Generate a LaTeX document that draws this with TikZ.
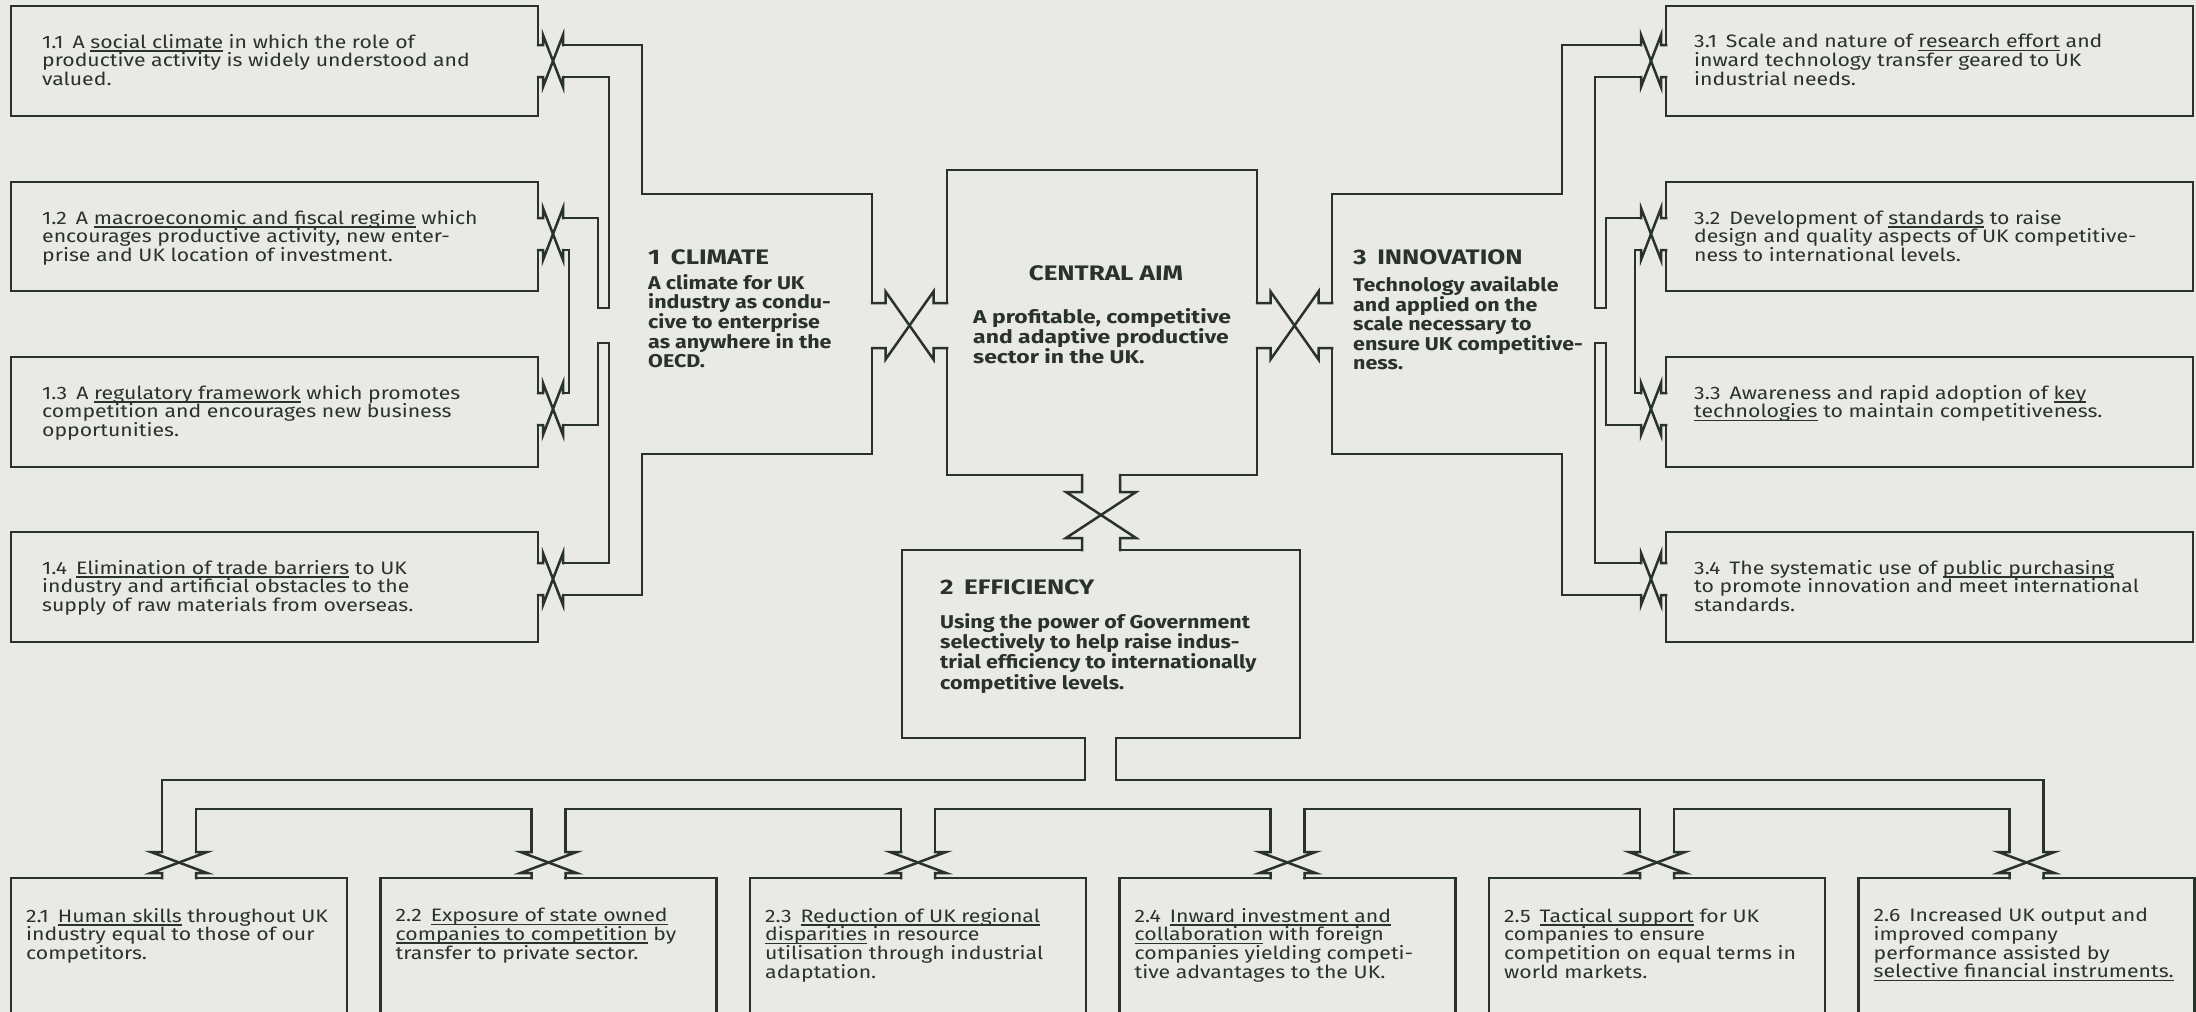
\documentclass[tikz,border=0pt]{standalone}
\usepackage{fontspec}
\setmainfont{Fira Sans}
\newfontfamily\smallfnt{Fira Sans}[FakeStretch=1.18]
\newfontfamily\descfnt{Fira Sans}[FakeStretch=1.16]
\newfontfamily\ttlfnt{Fira Sans}[FakeStretch=1.24]
\definecolor{bg}{RGB}{233,233,230}
\definecolor{ink}{RGB}{42,50,45}
\newsavebox\ulbox
\newcommand\ul[1]{\sbox\ulbox{#1}\rlap{\rule[-3.4pt]{\wd\ulbox}{1.4pt}}\usebox\ulbox}
% horizontal crossover: cx cy w h s a1 a2
\newcommand\XH[7]{%
  \draw[ln] (#6,{#2-#5}) -- ({#1-#3},{#2-#5}) -- ({#1-#3},{#2-#4}) -- ({#1+#3},{#2+#4}) -- ({#1+#3},{#2+#5}) -- (#7,{#2+#5});
  \draw[ln] (#6,{#2+#5}) -- ({#1-#3},{#2+#5}) -- ({#1-#3},{#2+#4}) -- ({#1+#3},{#2-#4}) -- ({#1+#3},{#2-#5}) -- (#7,{#2-#5});}
% vertical crossover: cx cy w h s a1 a2
\newcommand\XV[7]{%
  \draw[ln] ({#1-#5},#6) -- ({#1-#5},{#2-#3}) -- ({#1-#4},{#2-#3}) -- ({#1+#4},{#2+#3}) -- ({#1+#5},{#2+#3}) -- ({#1+#5},#7);
  \draw[ln] ({#1+#5},#6) -- ({#1+#5},{#2-#3}) -- ({#1+#4},{#2-#3}) -- ({#1-#4},{#2+#3}) -- ({#1-#5},{#2+#3}) -- ({#1-#5},#7);}
\tikzset{
  ln/.style={draw=ink, line width=2.5pt, line join=miter, line cap=rect},
  small/.style={inner sep=0pt, anchor=north west, align=left, text=ink, font=\smallfnt\fontsize{18}{18.7}\selectfont},
  bdesc/.style={inner sep=0pt, anchor=north west, align=left, text=ink, font=\descfnt\bfseries\fontsize{18.5}{18.8}\selectfont},
  ttl/.style={inner sep=0pt, anchor=north west, text=ink, font=\ttlfnt\bfseries\fontsize{21}{23}\selectfont},
}
\begin{document}
\begin{tikzpicture}[x=1pt,y=-1pt]
\fill[bg] (0,0) rectangle (2196,1012);
\useasboundingbox (0,0) rectangle (2196,1012);
\begin{scope}
\clip (0,0) rectangle (2196,1012);
% ---------- side boxes 1.x and 3.x
\foreach \T/\B/\c in {6/116/61, 182/291/234, 357/467/409, 532/642/579}{
  \draw[ln] (538,{\c-16}) -- (538,\T) -- (11,\T) -- (11,\B) -- (538,\B) -- (538,{\c+16});
  \XH{553}{\c}{10}{26}{16}{538}{563}
  \draw[ln] (1666,{\c-16}) -- (1666,\T) -- (2193,\T) -- (2193,\B) -- (1666,\B) -- (1666,{\c+16});
  \XH{1651}{\c}{10}{26}{16}{1641}{1666}
}
% left pipes
\draw[ln] (563,45) -- (642,45) -- (642,194) -- (872,194) -- (872,303);
\draw[ln] (563,77) -- (609,77) -- (609,308) -- (598,308) -- (598,218) -- (563,218);
\draw[ln] (563,250) -- (569,250) -- (569,393) -- (563,393);
\draw[ln] (563,425) -- (598,425) -- (598,343) -- (609,343) -- (609,563) -- (563,563);
\draw[ln] (563,595) -- (642,595) -- (642,454) -- (872,454) -- (872,348);
% right pipes
\draw[ln] (1641,45) -- (1562,45) -- (1562,194) -- (1332,194) -- (1332,303);
\draw[ln] (1641,77) -- (1595,77) -- (1595,308) -- (1606,308) -- (1606,218) -- (1641,218);
\draw[ln] (1641,250) -- (1635,250) -- (1635,393) -- (1641,393);
\draw[ln] (1641,425) -- (1606,425) -- (1606,343) -- (1595,343) -- (1595,563) -- (1641,563);
\draw[ln] (1641,595) -- (1562,595) -- (1562,454) -- (1332,454) -- (1332,348);
% central aim
\XH{909.5}{325.5}{24}{34}{22.5}{872}{947}
\XH{1294.5}{325.5}{24}{34}{22.5}{1257}{1332}
\draw[ln] (947,303) -- (947,170) -- (1257,170) -- (1257,303);
\draw[ln] (1257,348) -- (1257,475) -- (1120,475);
\draw[ln] (1082,475) -- (947,475) -- (947,348);
\XV{1101}{515}{23}{35}{19}{475}{550}
% efficiency and distribution
\draw[ln] (1082,550) -- (902,550) -- (902,738) -- (1085,738) -- (1085,780) -- (162,780) -- (162,852);
\draw[ln] (1120,550) -- (1300,550) -- (1300,738) -- (1116,738) -- (1116,780) -- (2043.5,780) -- (2043.5,852);
\foreach \c/\n in {179/548.5, 548.5/918, 918/1287.5, 1287.5/1657, 1657/2026.5}{
  \draw[ln] ({\c+17},852) -- ({\c+17},809) -- ({\n-17},809) -- ({\n-17},852);
}
\foreach \c in {179, 548.5, 918, 1287.5, 1657, 2026.5}{
  \draw[ln] ({\c-17},878) -- ({\c-168},878) -- ({\c-168},1030) -- ({\c+168},1030) -- ({\c+168},878) -- ({\c+17},878);
  \XV{\c}{862.5}{10.5}{28}{17}{852}{878}
}
\end{scope}
% ---------- texts
\node[small] (t11) at (42,34) {1.1\enspace A \ul{social climate} in which the role of\\productive activity is widely understood and\\valued.};
\node[small] (t12) at (42,210) {1.2\enspace A \ul{macroeconomic and fiscal regime} which\\encourages productive activity, new enter-\\prise and UK location of investment.};
\node[small] (t13) at (42,385) {1.3\enspace A \ul{regulatory framework} which promotes\\competition and encourages new business\\opportunities.};
\node[small] (t14) at (42,560) {1.4\enspace \ul{Elimination of trade barriers} to UK\\industry and artificial obstacles to the\\supply of raw materials from overseas.};
\node[small] (t31) at (1694,34) {3.1\enspace Scale and nature of \ul{research effort} and\\inward technology transfer geared to UK\\industrial needs.};
\node[small] (t32) at (1694,210) {3.2\enspace Development of \ul{standards} to raise\\design and quality aspects of UK competitive-\\ness to international levels.};
\node[small] (t33) at (1694,385) {3.3\enspace Awareness and rapid adoption of \ul{key}\\\ul{technologies} to maintain competitiveness.};
\node[small] (t34) at (1694,560) {3.4\enspace The systematic use of \ul{public purchasing}\\to promote innovation and meet international\\standards.};
\node[small] (t21) at (26,908) {2.1\enspace \ul{Human skills} throughout UK\\industry equal to those of our\\competitors.};
\node[small] (t22) at (395.5,908) {2.2\enspace \ul{Exposure of state owned}\\\ul{companies to competition} by\\transfer to private sector.};
\node[small] (t23) at (765,908) {2.3\enspace \ul{Reduction of UK regional}\\\ul{disparities} in resource\\utilisation through industrial\\adaptation.};
\node[small] (t24) at (1134.5,908) {2.4\enspace \ul{Inward investment and}\\\ul{collaboration} with foreign\\companies yielding competi-\\tive advantages to the UK.};
\node[small] (t25) at (1504,908) {2.5\enspace \ul{Tactical support} for UK\\companies to ensure\\competition on equal terms in\\world markets.};
\node[small] (t26) at (1873.5,908) {2.6\enspace Increased UK output and\\improved company\\performance assisted by\\\ul{selective financial instruments.}};
\node[ttl] (tclim) at (648,249) {1\enspace CLIMATE};
\node[bdesc] (dclim) at (648,274.5) {A climate for UK\\industry as condu-\\cive to enterprise\\as anywhere in the\\OECD.};
\node[ttl, anchor=north] (tcent) at (1106,265) {CENTRAL AIM};
\node[bdesc, font=\ttlfnt\bfseries\fontsize{18.5}{19.8}\selectfont] (dcent) at (973,308.5) {A profitable, competitive\\and adaptive productive\\sector in the UK.};
\node[ttl] (tinno) at (1353,249) {3\enspace INNOVATION};
\node[bdesc] (dinno) at (1353,276.5) {Technology available\\and applied on the\\scale necessary to\\ensure UK competitive-\\ness.};
\node[ttl] (teff) at (940,579) {2\enspace EFFICIENCY};
\node[bdesc] (deff) at (940,613.5) {Using the power of Government\\selectively to help raise indus-\\trial efficiency to internationally\\competitive levels.};
\end{tikzpicture}
\end{document}
